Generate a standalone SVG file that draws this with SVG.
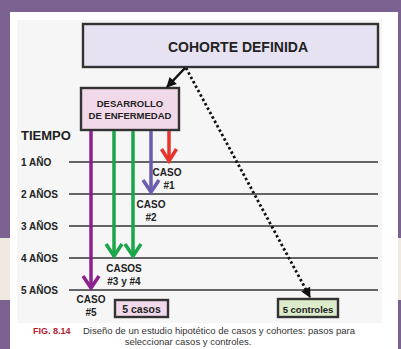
<svg xmlns="http://www.w3.org/2000/svg" width="401" height="349" viewBox="0 0 401 349">
<style>
.b{font-family:"Liberation Sans",Arial,sans-serif;font-weight:bold;fill:#222}
.c{text-anchor:middle}
.yr{font-size:10px}
.lbl{font-size:10px;text-anchor:middle}
.box{stroke:#333;stroke-width:2.4}
.tl{stroke:#333;stroke-width:1.5}
.cap{font-family:"Liberation Sans",Arial,sans-serif;font-size:9.5px;fill:#333}
</style>
<defs>
<marker id="mP" markerUnits="userSpaceOnUse" markerWidth="20" markerHeight="20" refX="14" refY="10" orient="auto" overflow="visible"><path d="M2,2 L14,10 L2,18" fill="none" stroke="#8c2290" stroke-width="3.5"/></marker>
<marker id="mG" markerUnits="userSpaceOnUse" markerWidth="20" markerHeight="20" refX="14" refY="10" orient="auto" overflow="visible"><path d="M2,2 L14,10 L2,18" fill="none" stroke="#1ca64b" stroke-width="3.5"/></marker>
<marker id="mB" markerUnits="userSpaceOnUse" markerWidth="20" markerHeight="20" refX="14" refY="10" orient="auto" overflow="visible"><path d="M2,2 L14,10 L2,18" fill="none" stroke="#6a5db0" stroke-width="3.5"/></marker>
<marker id="mR" markerUnits="userSpaceOnUse" markerWidth="20" markerHeight="20" refX="14" refY="10" orient="auto" overflow="visible"><path d="M2,2.5 L14,10 L2,17.5" fill="none" stroke="#e8342a" stroke-width="3.5"/></marker>
<marker id="mK" markerUnits="userSpaceOnUse" markerWidth="12" markerHeight="12" refX="9" refY="5" orient="auto" overflow="visible"><path d="M0,0 L10,5 L0,10 z" fill="#111"/></marker>
</defs>
<rect x="0" y="0" width="401" height="349" fill="#7b618f"/>
<rect x="0" y="238" width="10" height="62" fill="#efe9e1"/>
<rect x="398" y="238" width="3" height="62" fill="#efe9e1"/>
<rect x="10" y="12" width="388" height="337" fill="#ffffff"/>
<rect x="17" y="20" width="365" height="303" fill="#f6f6f6"/>

<g id="timeline">
<line class="tl" x1="69" y1="162" x2="378" y2="162"/>
<line class="tl" x1="69" y1="194" x2="378" y2="194"/>
<line class="tl" x1="69" y1="226" x2="378" y2="226"/>
<line class="tl" x1="69" y1="258" x2="378" y2="258"/>
<line class="tl" x1="69" y1="290" x2="378" y2="290"/>
<text class="b" x="21" y="140" font-size="13">TIEMPO</text>
<text class="b yr" x="21" y="166">1 AÑO</text>
<text class="b yr" x="21" y="198">2 AÑOS</text>
<text class="b yr" x="21" y="230">3 AÑOS</text>
<text class="b yr" x="21" y="262">4 AÑOS</text>
<text class="b yr" x="21" y="294">5 AÑOS</text>
</g>

<g id="cohorte">
<rect class="box" x="83" y="24" width="295" height="43" fill="#e6e2f1"/>
<text class="b c" x="238" y="52" font-size="14">COHORTE DEFINIDA</text>
</g>

<g id="desarrollo">
<rect class="box" x="81" y="88" width="98" height="42" fill="#f1d9e9"/>
<text class="b c" x="130" y="107" font-size="9.5">DESARROLLO</text>
<text class="b c" x="130" y="118.5" font-size="9.5">DE ENFERMEDAD</text>
</g>

<g id="connectors">
<line x1="185" y1="68" x2="167" y2="87" stroke="#111" stroke-width="2.5" marker-end="url(#mK)"/>
<line x1="186" y1="68" x2="310" y2="297" stroke="#111" stroke-width="2.8" stroke-dasharray="2.5,2.5" marker-end="url(#mK)"/>
<line x1="91" y1="131" x2="91" y2="288" stroke="#8c2290" stroke-width="3.5" marker-end="url(#mP)"/>
<line x1="114" y1="131" x2="114" y2="256" stroke="#1ca64b" stroke-width="3.5" marker-end="url(#mG)"/>
<line x1="133" y1="131" x2="133" y2="256" stroke="#1ca64b" stroke-width="3.5" marker-end="url(#mG)"/>
<line x1="151" y1="131" x2="151" y2="192" stroke="#6a5db0" stroke-width="3.5" marker-end="url(#mB)"/>
<line x1="169" y1="131" x2="169" y2="161" stroke="#e8342a" stroke-width="3.5" marker-end="url(#mR)"/>
</g>

<g id="caso1">
<text class="b lbl" x="167" y="176">CASO</text>
<text class="b lbl" x="169" y="189">#1</text>
</g>
<g id="caso2">
<text class="b lbl" x="151" y="208">CASO</text>
<text class="b lbl" x="151" y="221">#2</text>
</g>
<g id="caso34">
<text class="b lbl" x="124" y="272">CASOS</text>
<text class="b lbl" x="124" y="285">#3 y #4</text>
</g>
<g id="caso5">
<text class="b lbl" x="91" y="303">CASO</text>
<text class="b lbl" x="91" y="316">#5</text>
</g>

<g id="casos">
<rect class="box" x="115" y="300" width="53" height="17" fill="#f1d9e9"/>
<text class="b c" x="141.5" y="313" font-size="10.5">5 casos</text>
</g>
<g id="controles">
<rect class="box" x="278" y="299" width="60" height="18" fill="#dcebc9"/>
<text class="b c" x="308" y="312.5" font-size="9.5">5 controles</text>
</g>

<g id="caption">
<text x="33" y="334" font-family="Liberation Sans, Arial, sans-serif" font-weight="bold" font-size="9" fill="#b3202c">FIG. 8.14</text>
<text class="cap" x="83" y="334">Diseño de un estudio hipotético de casos y cohortes: pasos para</text>
<text class="cap" x="188" y="345" text-anchor="middle">seleccionar casos y controles.</text>
</g>
</svg>
